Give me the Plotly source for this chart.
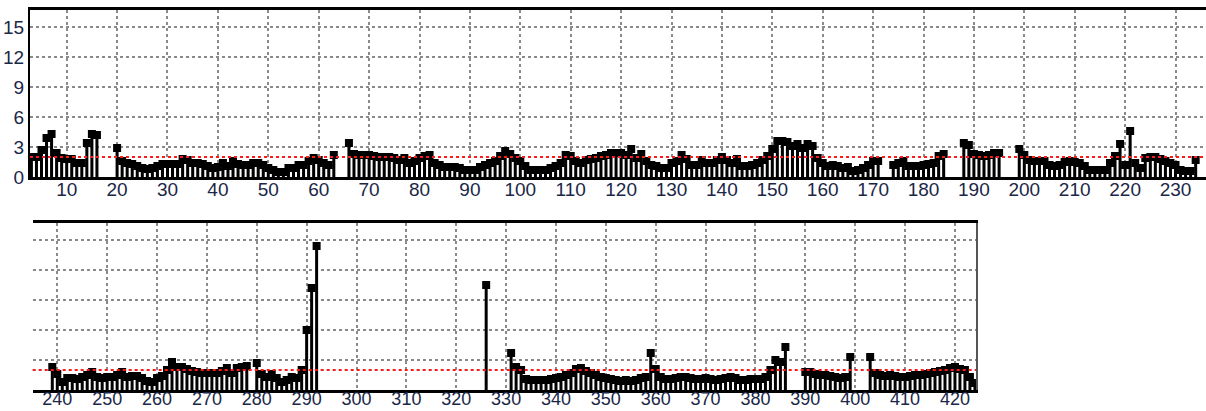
import plotly.graph_objects as go

# ---------------- data ----------------
top_start = 3
top_values = [
    2.0, 2.0, 2.7, 3.9, 4.3, 2.4, 1.9, 1.8, 1.8, 1.4,   # 3-12
    1.4, 3.4, 4.3, 4.2, None, None, None, 2.9, 1.6, 1.4,  # 13-22
    1.3, 1.1, 0.9, 0.8, 0.9, 1.1, 1.3, 1.3, 1.3, 1.3,   # 23-32
    1.8, 1.7, 1.4, 1.4, 1.3, 1.1, 0.9, 1.0, 1.4, 1.1,   # 33-42
    1.6, 1.3, 1.2, 1.2, 1.4, 1.4, 1.2, 0.9, 0.7, 0.5,   # 43-52
    0.5, 0.9, 0.9, 1.2, 1.2, 1.6, 1.9, 1.7, 1.4, 1.2,   # 53-62
    2.2, None, None, 3.4, 2.3, 2.2, 2.2, 2.2, 2.1, 2.0, # 63-72
    2.0, 2.0, 1.9, 1.7, 1.9, 1.4, 1.6, 1.9, 2.1, 2.2,   # 73-82
    1.4, 1.2, 1.0, 1.0, 1.0, 0.9, 0.7, 0.7, 0.7, 1.0,   # 83-92
    1.2, 1.4, 1.6, 2.1, 2.6, 2.3, 1.9, 1.6, 1.1, 0.7,   # 93-102
    0.7, 0.7, 0.7, 0.9, 1.1, 1.4, 2.2, 2.1, 1.6, 1.4,   # 103-112
    1.7, 1.8, 1.9, 2.1, 2.2, 2.4, 2.4, 2.4, 2.2, 2.8,   # 113-122
    1.9, 2.3, 1.6, 1.2, 1.1, 0.9, 0.9, 1.4, 1.6, 2.2,   # 123-132
    1.8, 1.2, 1.2, 1.7, 1.4, 1.4, 1.7, 2.0, 1.7, 1.4,   # 133-142
    1.8, 1.1, 1.1, 1.2, 1.4, 1.7, 2.1, 2.8, 3.6, 3.6,   # 143-152
    3.5, 3.1, 3.3, 2.9, 3.3, 3.1, 1.9, 1.4, 1.1, 1.2,   # 153-162
    1.1, 0.9, 1.0, 0.6, 0.7, 0.9, 1.2, 1.6, 1.6, None,  # 163-172
    None, 1.2, 1.4, 1.6, 1.1, 1.1, 1.1, 1.2, 1.3, 1.4,  # 173-182
    2.1, 2.3, None, None, None, 3.4, 3.2, 2.3, 2.2, 2.1, # 183-192
    2.2, 2.4, 2.4, None, None, None, 2.8, 2.2, 1.7, 1.6, # 193-202
    1.6, 1.6, 1.2, 1.1, 1.2, 1.5, 1.6, 1.5, 1.4, 1.1,   # 203-212
    0.7, 0.7, 0.7, 0.7, 1.4, 2.1, 3.3, 1.2, 4.6, 1.4,   # 213-222
    0.9, 1.9, 2.0, 2.0, 1.8, 1.6, 1.4, 1.2, 0.7, 0.6,   # 223-232
    0.6, 1.7,                                           # 233-234
]

bottom_start = 239
bottom_values = [
    2.3, 1.6, 0.8, 1.2, 1.2, 1.1, 1.3, 1.5, 1.8, 1.3,   # 239-248
    1.2, 1.3, 1.3, 1.5, 1.8, 1.3, 1.4, 1.4, 1.2, 0.9,   # 249-258
    0.8, 1.2, 1.4, 2.0, 2.8, 2.3, 2.3, 2.1, 1.9, 1.8,   # 259-268
    1.7, 1.7, 1.7, 1.7, 1.9, 2.2, 1.7, 2.2, 2.3, 2.4,   # 269-278
    None, 2.7, 1.6, 1.3, 1.6, 1.2, 0.8, 1.0, 1.3, 1.2,  # 279-288
    2.0, 6.0, 10.2, 14.4,                               # 289-292
    None, None, None, None, None, None, None, None, None, None,  # 293-302
    None, None, None, None, None, None, None, None, None, None,  # 303-312
    None, None, None, None, None, None, None, None, None, None,  # 313-322
    None, None, None,                                   # 323-325
    10.5, None, None, None, None,                       # 326-330
    3.7, 2.3, 2.0, 1.1, 1.0, 1.0, 1.0, 1.0, 1.1, 1.2,   # 331-340
    1.3, 1.5, 1.7, 2.1, 2.2, 1.9, 1.7, 1.5, 1.3, 1.2,   # 341-350
    1.1, 1.0, 0.9, 1.0, 0.9, 1.0, 1.2, 1.3, 3.7, 2.1,   # 351-360
    1.3, 1.1, 1.1, 1.2, 1.3, 1.3, 1.2, 1.1, 1.1, 1.2,   # 361-370
    1.1, 1.0, 1.1, 1.2, 1.3, 1.2, 1.0, 1.0, 1.1, 1.1,   # 371-380
    1.1, 1.3, 2.0, 3.0, 2.8, 4.3, None, None, None, 1.8, # 381-390
    1.8, 1.6, 1.5, 1.5, 1.4, 1.3, 1.2, 1.3, 3.3, None,  # 391-400
    None, None, 3.3, 1.7, 1.5, 1.4, 1.5, 1.4, 1.3, 1.3, # 401-410
    1.4, 1.5, 1.5, 1.6, 1.7, 1.8, 1.9, 2.0, 2.2, 2.3,   # 411-420
    2.1, 2.0, 1.3, 0.7,                                 # 421-424
]

threshold = 2.0
top_ticks = [10, 20, 30, 40, 50, 60, 70, 80, 90, 100, 110, 120, 130, 140, 150,
             160, 170, 180, 190, 200, 210, 220, 230]
bottom_ticks = [240, 250, 260, 270, 280, 290, 300, 310, 320, 330, 340, 350, 360,
                370, 380, 390, 400, 410, 420]
y_ticks = [0, 3, 6, 9, 12, 15]

top_x = [top_start + i for i in range(len(top_values))]
bottom_x = [bottom_start + i for i in range(len(bottom_values))]

# ---------------- figure ----------------
W, H = 1206, 411
fig = go.Figure()

for xs, ys, xa, ya in [(top_x, top_values, "x", "y"),
                       (bottom_x, bottom_values, "x2", "y2")]:
    fig.add_trace(go.Bar(x=xs, y=ys, width=0.6, xaxis=xa, yaxis=ya,
                         marker=dict(color="black", line=dict(width=0)),
                         hoverinfo="x+y"))
    fig.add_trace(go.Scatter(x=xs, y=ys, mode="markers", xaxis=xa, yaxis=ya,
                             marker=dict(symbol="square", size=8, color="black",
                                         line=dict(width=0))))

grid = dict(showgrid=True, gridcolor="#8a8a8a", gridwidth=1.6, griddash="dot",
            zeroline=False, ticks="", automargin=False)
font_col = "#1b2747"

fig.update_layout(
    template="none",
    width=W, height=H, margin=dict(l=0, r=0, t=0, b=0, pad=0),
    paper_bgcolor="white", plot_bgcolor="white", showlegend=False,
    barmode="overlay",
    font=dict(family="Liberation Sans, Arial, sans-serif", size=19, color=font_col),
    xaxis=dict(domain=[30 / W, 1.0], range=[2.72, 236.05], tickvals=top_ticks,
               showline=True, linecolor="black", linewidth=2.5, mirror=True,
               ticklabelstandoff=-7, anchor="y", **grid),
    yaxis=dict(domain=[(H - 177) / H, (H - 10) / H], range=[0, 16.7],
               tickvals=y_ticks, showline=True, linecolor="black", linewidth=2,
               mirror=False, anchor="x", **grid),
    xaxis2=dict(domain=[32.7 / W, 976 / W], range=[235.07, 424.22],
                tickvals=bottom_ticks, showline=True, linecolor="black",
                linewidth=2.5, mirror=True, ticklabelstandoff=-9,
                tickfont=dict(size=18), anchor="y2", **grid),
    yaxis2=dict(domain=[(H - 390) / H, (H - 222.7) / H], range=[0, 16.73],
                tickvals=y_ticks, showticklabels=False, showline=True,
                linecolor="#555555", linewidth=1.5, side="right",
                anchor="x2", **grid),
)

for xr, yr in [("x domain", "y"), ("x2 domain", "y2")]:
    fig.add_shape(type="line", xref=xr, yref=yr, x0=0, x1=1,
                  y0=threshold, y1=threshold, layer="above",
                  line=dict(color="#ff1a1a", width=2, dash="dot"))

fig.write_html("out.html", config={"displayModeBar": False},
               post_script="document.body.style.margin='0';"
                           "document.body.style.overflow='hidden';")
